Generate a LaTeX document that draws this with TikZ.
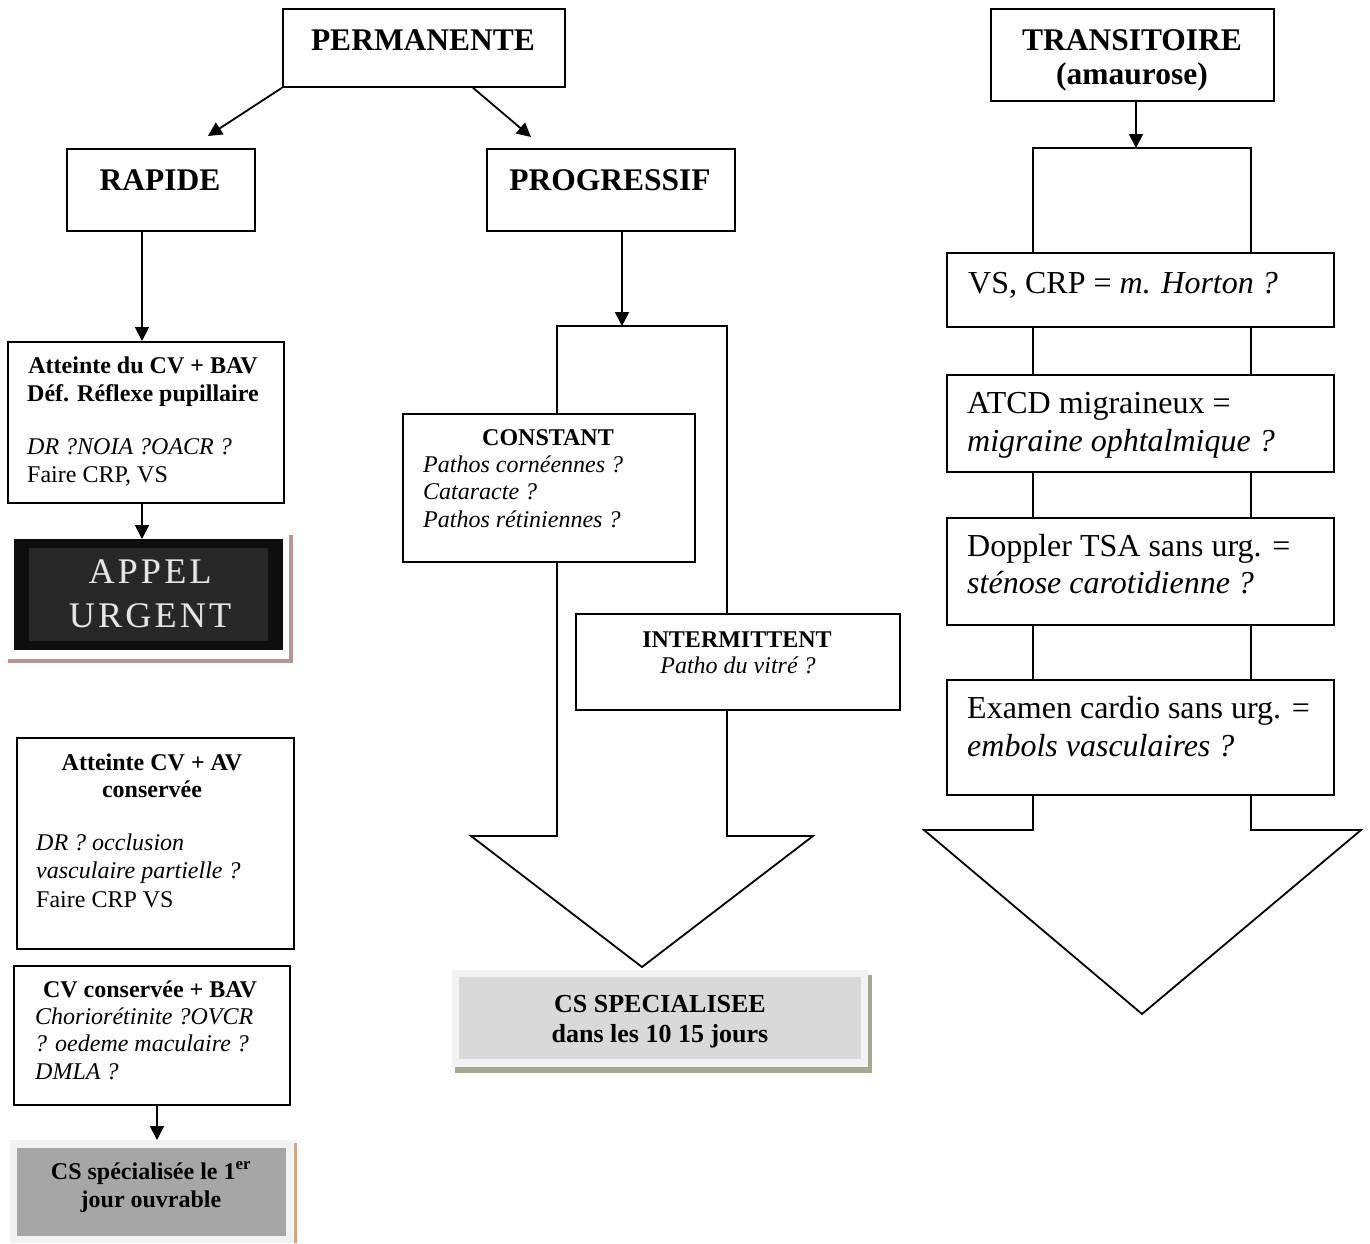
\documentclass[tikz,border=0pt]{standalone}
\usepackage{fontspec}
\setmainfont{Liberation Serif}
\usetikzlibrary{arrows.meta,calc}
\definecolor{appelshadow}{HTML}{B89494}
\definecolor{appelout}{HTML}{0E0E0E}
\definecolor{appelin}{HTML}{272727}
\definecolor{appeltxt}{HTML}{E6E6E6}
\definecolor{lightfr}{HTML}{F2F2F2}
\definecolor{midgray}{HTML}{A6A6A6}
\definecolor{palegray}{HTML}{D9D9D9}
\definecolor{tanline}{HTML}{D9A27F}
\definecolor{olivesh}{HTML}{A4A88E}
\newcommand\linesL[1]{\begin{tabular}[t]{@{}l@{}}#1\end{tabular}}
\newcommand\linesC[1]{\begin{tabular}[t]{@{}c@{}}#1\end{tabular}}
\newcommand\fsz[2]{\fontsize{#1}{#2}\selectfont}
\begin{document}
\begin{tikzpicture}[x=1pt,y=-1pt,
  box/.style={draw,line width=1.8pt,fill=white,inner sep=0pt,anchor=north west},
  flat/.style={inner sep=0pt,anchor=north west},
  txt/.style={inner sep=0pt,anchor=base},
  txtL/.style={inner sep=0pt,anchor=base west},
  arr/.style={line width=1.8pt,-{Triangle[length=14pt,width=14pt]}},
  bigarrow/.style={draw,line width=1.8pt,fill=white,line join=miter}
]
\useasboundingbox (0,0) rectangle (1370,1243);

% column coordinates
\coordinate (colA) at (142,0);
\coordinate (colC) at (157,0);
\coordinate (rapT) at (208,136);
\coordinate (progT) at (531,137);
\coordinate (mtop) at (622,326);
\coordinate (rtop) at (1136,148);

% big block arrows
\draw[bigarrow] (557,326) -- (727,326) -- (727,836) -- (813,836) -- (642,967)
  -- (471,836) -- (557,836) -- cycle;
\draw[bigarrow] (1033,148) -- (1251,148) -- (1251,830) -- (1361,830) -- (1142,1014)
  -- (924,830) -- (1033,830) -- cycle;

% boxes
\node[box,minimum width=282pt,minimum height=78pt] (perm) at (282,8) {};
\node[box,minimum width=188pt,minimum height=82pt] (rap) at (66,148) {};
\node[box,minimum width=248pt,minimum height=82pt] (prog) at (486,148) {};
\node[box,minimum width=276pt,minimum height=161pt] (a1) at (7,341) {};
\node[box,minimum width=277pt,minimum height=211pt] (a2) at (16,737) {};
\node[box,minimum width=276pt,minimum height=139pt] (a3) at (13,965) {};
\node[box,minimum width=292pt,minimum height=148pt] (cons) at (402,413) {};
\node[box,minimum width=324pt,minimum height=96pt] (inter) at (575,613) {};
\node[box,minimum width=283pt,minimum height=92pt] (trans) at (990,8) {};
\node[box,minimum width=387pt,minimum height=74pt] (vs) at (946,252) {};
\node[box,minimum width=387pt,minimum height=97pt] (atcd) at (946,374) {};
\node[box,minimum width=387pt,minimum height=107pt] (dopp) at (946,517) {};
\node[box,minimum width=387pt,minimum height=115pt] (exam) at (946,679) {};

% APPEL URGENT
\draw[appelshadow,line width=4pt] (8,661) -- (291,661) -- (291,535);
\node[flat,fill=appelout,minimum width=269pt,minimum height=111pt] (appelo) at (14,539) {};
\node[flat,fill=appelin,minimum width=239pt,minimum height=93pt] (appeli) at (29,548) {};
\node[txt,text=black!70] (appelsh) at (150.8,583.8)
  {\fsz{36}{44}\addfontfeatures{LetterSpace=9}\linesC{APPEL\\URGENT}};
\node[txt,text=appeltxt] (appeltx) at (150,583)
  {\fsz{36}{44}\addfontfeatures{LetterSpace=9}\linesC{APPEL\\URGENT}};

% CS specialisee le 1er jour
\node[flat,fill=lightfr,minimum width=283pt,minimum height=103pt] (csao) at (10,1140) {};
\node[flat,fill=midgray,minimum width=269pt,minimum height=88pt] (csai) at (17,1148) {};
\draw[tanline,line width=3pt] (295,1143) -- (295,1243);
\node[txt] (csatx) at (151,1179)
  {\fsz{24}{28}\bfseries\linesC{CS spécialisée le 1\textsuperscript{er}\\jour ouvrable}};

% CS SPECIALISEE
\node[flat,fill=olivesh,minimum width=417pt,minimum height=98pt] (csbs) at (455,975) {};
\node[flat,fill=lightfr,minimum width=416pt,minimum height=97pt] (csbo) at (452,970) {};
\node[flat,fill=palegray,minimum width=402pt,minimum height=82pt] (csbi) at (459,977) {};
\node[txt] (csbtx) at (660,1012)
  {\fsz{26}{30}\bfseries\linesC{CS SPECIALISEE\\dans les 10 15 jours}};

% texts
\node[txt] (permtx) at (423,50) {\fsz{31.5}{36}\bfseries PERMANENTE};
\node[txt] (raptx) at (160,190) {\fsz{31.5}{36}\bfseries RAPIDE};
\node[txt] (progtx) at (610,190) {\fsz{31.5}{36}\bfseries PROGRESSIF};
\node[txt] (transtx) at (1132,50) {\fsz{31.5}{34}\bfseries\linesC{TRANSITOIRE\\(amaurose)}};

\node[txt] (a1b) at (143,373) {\fsz{24}{28}\bfseries\linesC{Atteinte du CV + BAV\\Déf. Réflexe pupillaire}};
\node[txtL] (a1t) at (27,454) {\fsz{24}{28}\linesL{\textit{DR ?NOIA ?OACR ?}\\Faire CRP, VS}};

\node[txt] (a2b) at (152,770) {\fsz{24}{27}\bfseries\linesC{Atteinte CV + AV\\conservée}};
\node[txtL] (a2t) at (36,850) {\fsz{24}{28.5}\linesL{\textit{DR ? occlusion}\\\textit{vasculaire partielle ?}\\Faire CRP VS}};

\node[txt] (a3b) at (150,997) {\fsz{24}{28}\bfseries CV conservée + BAV};
\node[txtL] (a3t) at (35,1024) {\fsz{24}{27.5}\linesL{\textit{Choriorétinite ?OVCR}\\\textit{? oedeme maculaire ?}\\\textit{DMLA ?}}};

\node[txt] (consb) at (548,445) {\fsz{24}{28}\bfseries CONSTANT};
\node[txtL] (const) at (423,472) {\fsz{24}{27.5}\linesL{\textit{Pathos cornéennes ?}\\\textit{Cataracte ?}\\\textit{Pathos rétiniennes ?}}};

\node[txt] (interb) at (737,647) {\fsz{24}{28}\bfseries INTERMITTENT};
\node[txt] (intert) at (738,673) {\fsz{24}{28}\itshape Patho du vitré ?};

\node[txtL] (vstx) at (968,293) {\fsz{32}{38}VS, CRP = \textit{m. Horton ?}};
\node[txtL] (atcdtx) at (967,413) {\fsz{32}{38.5}\linesL{ATCD migraineux =\\\textit{migraine ophtalmique ?}}};
\node[txtL] (dopptx) at (967,556) {\fsz{32}{37.5}\linesL{Doppler TSA sans urg. =\\\textit{sténose carotidienne ?}}};
\node[txtL] (examtx) at (967,718) {\fsz{32}{38.5}\linesL{Examen cardio sans urg. =\\\textit{embols vasculaires ?}}};

% connectors
\draw[arr] (perm.south west) -- (rapT);
\draw[arr] ($(perm.south west)+(191,0)$) -- (progT);
\draw[arr] (rap.south -| colA) -- (a1.north -| colA);
\draw[arr] (a1.south -| colA) -- (appelo.north -| colA);
\draw[arr] (prog.south -| mtop) -- (mtop);
\draw[arr] (trans.south -| rtop) -- (rtop);
\draw[arr] (a3.south -| colC) -- (csao.north -| colC);
\end{tikzpicture}
\end{document}
